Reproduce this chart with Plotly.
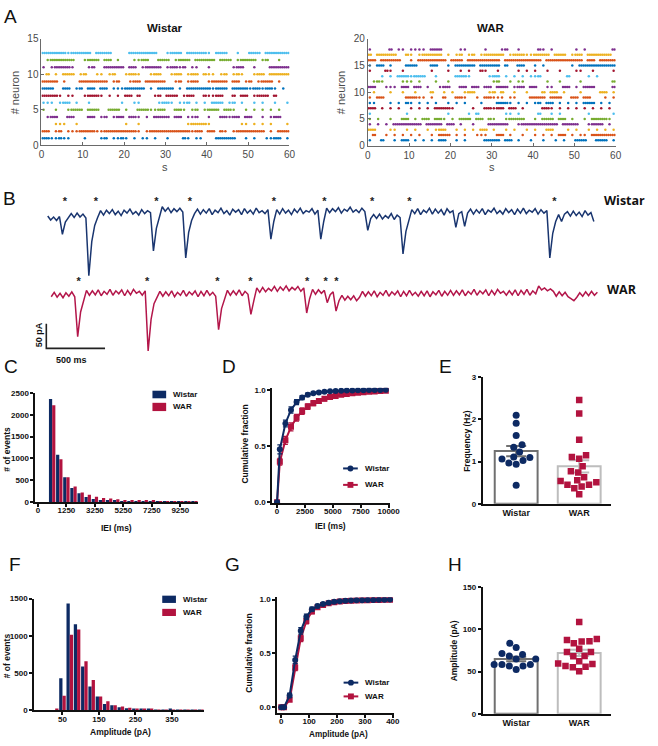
import numpy as np
import plotly.graph_objects as go

FIG_W, FIG_H = 658, 746
def fx(p): return p / FIG_W
def fy(p): return 1 - p / FIG_H

NAVY = '#0d2a63'
CRIMSON = '#b2133f'
TRACE_NAVY = '#19356f'
TRACE_CRIMSON = '#b3164a'
MATLAB_COLORS = ['#0072BD', '#D95319', '#EDB120', '#7E2F8E', '#77AC30', '#4DBEEE', '#A2142F']
GP_FONT = 'Liberation Sans'

# ---------------- Panel A : raster (60 one-second bins per neuron; '|' = 1 spike, ':' = 2 spikes)
RASTER_WISTAR = [
    "::||:||... |...|:.||: |.|.||.|.. |...:|.||. ..:::::..| .|..||::.|",
    "::.|:.|||: :::||::::: :::|.|:::: ::::::|::. ::.:|.|::: ::::.|.:::",
    "...|||..|. .......... |..|...... .....|:::: |.......|| .|.|.|...|",
    ".|::..::.. .::.|:.|:: .::|.|.::: :.::.||:.. |..::|::.: :..|.|::..",
    "|..|..|::: .:::..:::. |..:::||:: ..::|.|:.| :::.::|..| .|.|.|.|..",
    "|||.|::.|. .|.......| ..||....|: :|.||:.|.| .:::.|:.|. .|.|..|..|",
    "::::|.||.. |:::|.|.|. ::.:...|:. :::.|::..: ||::..:.:: .|:::.:...",
    ":::..::.|: .::.::.||| :::::.|.:: ::.|.::::: :|:::.:::: |::|::|.|.",
    "::::.|...: ::::::.|:. .|::.::::: ..|:.|::.. |::::.::.| :.|:::.|..",
    ".:.|.:::.| :..||.|:.. |::|..|::. .|::.|::.: ||.|:.|:|. .|::.:::::",
    "|.|::::|.. .|:..::::: .::.|::::. |::|:.||.. |.....|::. .|...:::::",
    ".|::::::.. |:::.::.|. ..||::..:: :.|:::.::: ::.:::.|:: ::.|:..|..",
    "::::::|::: ::.::::... .:::::::.. |:::.::::: |.:::..|.. :::.::::::",
]
RASTER_WAR = [
    "|..:..|.:: .|.|.|.::. .|.|....:: ::.::.|..| ..|..|.|.. :::..:::.|",
    ".:..|.|.|. |.|..|.::: .|.|..|||. .::.|..|.. |.|.|.::.| .||.::::::",
    "::...||..| .|..|.|::. .|.|.|.::. |..|.|..|. |..::...|. |..|.|.|.|",
    "|.|.|.:::: :::.::::.: :.|..|...: ::::..|::: ::::::.::: :..|:::.|.",
    "|.|..|..:: .|.::.::|. |.:::.::.: |..|::::.. |.:::.::.| ..|.::::|.",
    "|........| .........| ....|.:... ...||.|... .:..|.|... ...|.....|",
    "::.|.|.|.. |.|.|.:::: |....|..:: |::.::.|.. ..::|.|.|. |.|.|.|.|.",
    "||...|.|.: |.|.|.|..| .|.|...|.. .:::|.|.|. |:.::.|.|. |.:::.|.|.",
    "|.::.....: ::||.|..:. .::|..|.:: |||.||...: :::.:::..: :.::...|.|",
    ".|...|..|. .|...:..|. |..|::...| :.:..|..|. ..:.::.|.. .|....::.|",
    "::..|||.:: .::.|..|:: ..::.::.:: .:::.|::.: :..||..::. |.:::....:",
    ".|:|....|| |.|...|..| .......... |:..|.||.. ...|..|... .|.......:",
    "...|.|.::: |:::..|... .:::|....| ::.|.|.|.| |:......:. ...|.|....",
    "|...:|..|. .....|...| ..|.|..:|. .|....|.|. |..|..|... ||..|....|",
    "|.::.|...: ::...::..| .:::::.::: ::.:..::.. |.|......| .:::::::::",
    "::.:::::.. |.:::::::. :::.:::::: ::.::::::: ::.::::::: ::.::.::::",
    ":.:::::..: |.|:::::.| .|:.|:.|:: :::.|:::|| ::::.:::.| ::.::::::.",
    "|....:.||. ||||.:::.. ..||....|. ..|:..|... .:|.|..... |.|......:",
]

# ---------------- Panel B : traces (pA, sampled every 25 ms)
TRACE_DT_MS = 25
TRACE_WISTAR = [
    -3, -11, -5, -12, -4,
    -40, -15, -6,
    2, -6, 3, -5, 1, -7,
    -124, -55, -22, -6,
    8, -1, 9, 2, 10, 0, 7, -2, 9, 3, 11, 1, 6, -1, 10, 2, 8, 4,
    -74, -28, -5,
    16, 7, 14, 4, 12, 6, 13, 5,
    -88, -36, -12, 2,
    11, 1, 10, 3, 12, 0, 9, 4, 13, 2, 8, -1, 11, 5, 10, 0, 12, 3, 9, 1, 13, 4, 8, 2, 10,
    -50, -14,
    10, 1, 12, 3, 9, 0, 11, 4, 13, 2, 8, 5, 12, 1, 9,
    -50, -14,
    13, 4, 12, 6, 14, 3, 11, 7, 15, 5, 10, 4, 13, 6,
    -32, -8,
    0, -8, 1, -9, -2, -7, 2, -10, -1, -6,
    -80, -34, -10,
    10, 2, 12, 0, 9, 4, 13, 1, 11, 3, 10, -1, 12, 4, 8,
    -26, 2, 6, -24, 3,
    11, 1, 10, 3, 12, 0, 9, 5, 13, 2, 8, 1, 12, 4, 10, 0, 11, 3, 13, 2, 9, 5, 12, 1, 10, 3, 8,
    -88, -38, -14, 0, -14, 1,
    6, -3, 7, -2, 5, -4, 8, -1, 4,
    -14,
]
TRACE_WAR = [
    -4, 5, -5, 3, -6, 4, -3, 6, -4,
    -85, -35, -12,
    9, -1, 8, 0, 10, -2, 7, 1, 11, -1, 8, 2, 10, -2, 9, 0, 11, 3, 7, -1, 8,
    -114, -50, -18, -4,
    7, -3, 6, -2, 8, -4, 5, -1, 9, -3, 6, 0, 8, -4, 7, -2, 9, -1, 5, -3,
    -71, -28, -8,
    9, -1, 8, 0, 10, -2, 7, 1,
    -40, -12,
    14, 5, 15, 6, 13, 8, 17, 7, 16, 9, 18, 8, 15, 10, 17, 7, 14,
    -37, -8,
    11, 1, 10, 3, 9,
    -16, 0, 6,
    -33, -12,
    -1, -11, -3, -10, -2, -12, -5,
    7, -3, 6, -2, 8, -4, 5, -1, 9, -3, 6, 0, 8, -4, 7, -2, 9, -1, 5, -3, 7, -2, 8, -4, 6, 0, 9, -3, 7, -1,
    9, -1, 8, 0, 10, -2, 7, 1, 11, -1, 8, 2, 10, -2, 9, 0, 11, 3, 7, -1, 8, 0, 10, -2, 9, 1, 11, -1, 8, 2,
    18, 10, 14, 8, 12,
    7, -3, 6, -2, 5, -4, -8, -12, -5, 4, -3, 6, -2, 7, -1, 5,
]
WAR_TRACE_START_MS = 30
EVENTS_WISTAR_MS = [147, 411, 925, 1211, 1925, 2355, 2763, 3080, 4313]
EVENTS_WAR_MS = [263, 847, 1444, 1725, 2208, 2367, 2458]
SCALE_PA = 50
SCALE_MS = 500

# ---------------- Panel C : IEI histogram
IEI_BINS = [250, 750, 1250, 1750, 2250, 2750, 3250, 3750, 4250, 4750, 5250,
            5750, 6250, 6750, 7250, 7750, 8250, 8750, 9250, 9750, 10250]
IEI_HIST_WISTAR = [2364, 1084, 565, 316, 196, 113, 68, 45, 30, 22, 15, 10, 8, 6, 5, 4, 3, 3, 2, 2, 1]
IEI_HIST_WAR = [2221, 979, 565, 354, 218, 166, 120, 90, 75, 60, 45, 38, 30, 25, 22, 18, 15, 13, 12, 10, 8]
IEI_TICKS = ['0', '1250', '3250', '5250', '7250', '9250']

# ---------------- Panel D : IEI cumulative
IEI_CUM_X = [0, 250, 750, 1250, 1750, 2250, 2750, 3250, 3750, 4250, 4750,
             5250, 5750, 6250, 6750, 7250, 7750, 8250, 8750, 9250, 9750]
IEI_CUM_WISTAR = [0, 0.47, 0.70, 0.82, 0.89, 0.93, 0.955, 0.968, 0.976, 0.982, 0.986,
                  0.989, 0.991, 0.993, 0.994, 0.995, 0.996, 0.997, 0.998, 0.998, 0.999]
IEI_CUM_WISTAR_SEM = [0, 0.04, 0.03, 0.028, 0.022, 0.018, 0.014, 0.01, 0.009, 0.008, 0.006,
                      0.005, 0.004, 0.004, 0.003, 0.003, 0.002, 0.002, 0.002, 0.001, 0.001]
IEI_CUM_WAR = [0, 0.36, 0.55, 0.67, 0.75, 0.81, 0.85, 0.88, 0.90, 0.92, 0.935,
               0.945, 0.955, 0.962, 0.968, 0.973, 0.977, 0.981, 0.985, 0.988, 0.99]
IEI_CUM_WAR_SEM = [0, 0.03, 0.035, 0.035, 0.03, 0.028, 0.025, 0.022, 0.02, 0.018, 0.016,
                   0.014, 0.012, 0.011, 0.01, 0.009, 0.008, 0.007, 0.006, 0.005, 0.004]
IEI_CUM_TICKS = ['0', '2500', '5000', '7500', '10000']

# ---------------- Panel E : frequency per cell (Hz)
FREQ_WISTAR = [2.10, 1.91, 1.62, 1.40, 1.34, 1.23, 1.11, 1.06, 1.10, 1.03, 0.97, 0.94, 0.44]
FREQ_WAR = [2.46, 2.14, 1.52, 1.15, 1.11, 1.07, 0.89, 0.74, 0.77, 0.63, 0.54, 0.56,
            0.51, 0.41, 0.45, 0.45, 0.37, 0.23]
GROUPS = ['Wistar', 'WAR']

# ---------------- Panel F : amplitude histogram
AMP_BINS = [10, 30, 50, 70, 90, 110, 130, 150, 170, 190, 210, 230, 250, 270, 290,
            310, 330, 350, 370, 390, 410, 430]
AMP_HIST_WISTAR = [0, 0, 431, 1434, 1157, 590, 321, 189, 88, 70, 44, 31, 20, 15, 12, 10, 8, 12, 6, 5, 4, 3]
AMP_HIST_WAR = [0, 15, 198, 1016, 1087, 660, 409, 189, 123, 70, 53, 35, 25, 16, 12, 10, 8, 6, 6, 5, 4, 3]

# ---------------- Panel G : amplitude cumulative
AMP_CUM_X = [0, 10, 30, 50, 70, 90, 110, 130, 150, 170, 190, 210, 230, 250, 270,
             290, 310, 330, 350, 370, 390]
AMP_CUM_WISTAR = [0, 0, 0.11, 0.44, 0.71, 0.84, 0.91, 0.94, 0.96, 0.97, 0.98,
                  0.985, 0.99, 0.992, 0.994, 0.995, 0.996, 0.997, 0.998, 0.999, 1.0]
AMP_CUM_WISTAR_SEM = [0, 0, 0.02, 0.035, 0.03, 0.025, 0.02, 0.015, 0.01, 0.008, 0.006,
                      0.005, 0.004, 0.003, 0.003, 0.002, 0.002, 0.002, 0.001, 0.001, 0.001]
AMP_CUM_WAR = [0, 0, 0.07, 0.37, 0.64, 0.80, 0.89, 0.93, 0.95, 0.965, 0.975,
               0.982, 0.987, 0.99, 0.992, 0.994, 0.995, 0.996, 0.997, 0.998, 0.999]
AMP_CUM_WAR_SEM = [0, 0, 0.015, 0.03, 0.03, 0.025, 0.02, 0.015, 0.012, 0.01, 0.008,
                   0.006, 0.005, 0.004, 0.003, 0.003, 0.002, 0.002, 0.002, 0.001, 0.001]

# ---------------- Panel H : amplitude per cell (pA)
AMP_WISTAR = [83.6, 78.5, 70.3, 71.5, 68.4, 64.9, 64.9, 58.3, 56.7, 56.7, 58.3, 58.3, 52.5]
AMP_WAR = [108.8, 87.4, 88.6, 85.5, 85.9, 83.6, 77.0, 73.1, 73.1, 68.4, 68.0, 62.2,
           59.1, 59.5, 56.7, 55.6, 55.2, 50.5]

fig = go.Figure()
layout = dict(width=FIG_W, height=FIG_H, margin=dict(l=0, r=0, t=0, b=0),
              paper_bgcolor='white', plot_bgcolor='white', showlegend=False)
annotations = []
shapes = []


def axkeys(n):
    return ('xaxis' if n == 1 else f'xaxis{n}', 'yaxis' if n == 1 else f'yaxis{n}',
            'x' if n == 1 else f'x{n}', 'y' if n == 1 else f'y{n}')


def set_axes(n, xpx, ypx, xr, yr, xstyle, ystyle):
    xk, yk, xa, ya = axkeys(n)
    layout[xk] = dict(domain=[fx(xpx[0]), fx(xpx[1])], range=xr, anchor=ya, fixedrange=True,
                      showgrid=False, zeroline=False, **xstyle)
    layout[yk] = dict(domain=[fy(ypx[1]), fy(ypx[0])], range=yr, anchor=xa, fixedrange=True,
                      showgrid=False, zeroline=False, **ystyle)
    return xa, ya


def matlab_style():
    return dict(showline=True, linecolor='#6a6a6a', linewidth=1, ticks='inside', ticklen=3,
                tickcolor='#6a6a6a', tickfont=dict(family=GP_FONT, size=10, color='#4a4a4a'))


def gp_style(**kw):
    d = dict(showline=True, linecolor='#111111', linewidth=1.6, ticks='outside', ticklen=3,
             tickwidth=1.6, tickcolor='#111111',
             tickfont=dict(family=GP_FONT, size=8, color='#111111', weight='bold'))
    d.update(kw)
    return d


def ann(text, x, y, size=8.5, bold=True, angle=0, xanchor='center', color='#111111', family=GP_FONT):
    annotations.append(dict(text=text, x=fx(x), y=fy(y), xref='paper', yref='paper', showarrow=False,
                            textangle=angle, xanchor=xanchor, yanchor='middle',
                            font=dict(family=family, size=size, color=color,
                                      weight='bold' if bold else 'normal')))


# ======== Panel A ========
def raster(rows, xa, ya):
    for r, row in enumerate(rows, start=1):
        bins = row.replace(' ', '')
        times = []
        for b, c in enumerate(bins):
            if c == '|':
                times.append(b + 0.5)
            elif c == ':':
                times.extend([b + 0.25, b + 0.75])
        fig.add_trace(go.Scatter(x=times, y=[r] * len(times), mode='markers', xaxis=xa, yaxis=ya,
                                 marker=dict(symbol='circle', size=2.5,
                                             color=MATLAB_COLORS[(r - 1) % 7], line=dict(width=0))))


xa, ya = set_axes(1, (39.3, 292.7), (33.3, 141.7), [0, 60], [0, 15],
                  dict(matlab_style(), tickvals=[0, 10, 20, 30, 40, 50, 60]),
                  dict(matlab_style(), tickvals=[0, 5, 10, 15]))
raster(RASTER_WISTAR, xa, ya)
xa, ya = set_axes(2, (372.7, 626), (33.3, 142), [0, 60], [0, 20],
                  dict(matlab_style(), tickvals=[0, 10, 20, 30, 40, 50, 60]),
                  dict(matlab_style(), tickvals=[0, 5, 10, 15, 20]))
raster(RASTER_WAR, xa, ya)
ann('Wistar', 165.7, 22, size=11.5)
ann('WAR', 499, 22, size=11.5)
ann('# neuron', 12, 88, size=11, bold=False, angle=-90, color='#4a4a4a')
ann('# neuron', 345, 88, size=11, bold=False, angle=-90, color='#4a4a4a')
ann('s', 165.5, 164, size=11, bold=False, color='#4a4a4a')
ann('s', 499.5, 164, size=11, bold=False, color='#4a4a4a')

# ======== Panel B ========
xa, ya = set_axes(3, (40, 610), (190, 365), [-47.5, 4702.5], [-306, 44],
                  dict(visible=False), dict(visible=False))
WAR_OFFSET = -163
t_w = [i * TRACE_DT_MS for i in range(len(TRACE_WISTAR))]
t_r = [WAR_TRACE_START_MS + i * TRACE_DT_MS for i in range(len(TRACE_WAR))]
fig.add_trace(go.Scatter(x=t_w, y=TRACE_WISTAR, mode='lines', xaxis=xa, yaxis=ya,
                         line=dict(color=TRACE_NAVY, width=1.5)))
fig.add_trace(go.Scatter(x=t_r, y=[v + WAR_OFFSET for v in TRACE_WAR], mode='lines', xaxis=xa, yaxis=ya,
                         line=dict(color=TRACE_CRIMSON, width=1.5)))
STAR_OFFSET = 25
fig.add_trace(go.Scatter(x=EVENTS_WISTAR_MS, y=[STAR_OFFSET] * len(EVENTS_WISTAR_MS), mode='text',
                         text=['*'] * len(EVENTS_WISTAR_MS), xaxis=xa, yaxis=ya,
                         textfont=dict(family=GP_FONT, size=11, color='#222222', weight='bold')))
fig.add_trace(go.Scatter(x=EVENTS_WAR_MS, y=[WAR_OFFSET + STAR_OFFSET] * len(EVENTS_WAR_MS), mode='text',
                         text=['*'] * len(EVENTS_WAR_MS), xaxis=xa, yaxis=ya,
                         textfont=dict(family=GP_FONT, size=11, color='#222222', weight='bold')))
bar_x0, bar_y0 = -12, -272
fig.add_trace(go.Scatter(x=[bar_x0, bar_x0, bar_x0 + SCALE_MS], y=[bar_y0 + SCALE_PA, bar_y0, bar_y0],
                         mode='lines', xaxis=xa, yaxis=ya, line=dict(color='#222222', width=1.6)))
ann('50 pA', 36.5, 334, size=9, angle=-90)
ann('500 ms', 70, 360, size=9)
ann('Wistar', 635, 198, size=12.5, family='Open Sans')
ann('WAR', 632, 288, size=12.5, family='Open Sans')

# ======== Panel C ========
xa, ya = set_axes(4, (33, 199), (393.3, 504), [-934, 10477], [0, 2500],
                  gp_style(tickvals=[-750, 1250, 3250, 5250, 7250, 9250], ticktext=IEI_TICKS, ticklabelstandoff=-3),
                  gp_style(tickvals=[0, 500, 1000, 1500, 2000, 2500]))
fig.add_trace(go.Bar(x=IEI_BINS, y=IEI_HIST_WISTAR, xaxis=xa, yaxis=ya, marker=dict(color=NAVY, line=dict(width=0))))
fig.add_trace(go.Bar(x=IEI_BINS, y=IEI_HIST_WAR, xaxis=xa, yaxis=ya, marker=dict(color=CRIMSON, line=dict(width=0))))
ann('# of events', 4, 450, angle=-90)
ann('IEI (ms)', 116, 530.5)

# ======== Panel D ========
xa, ya = set_axes(5, (275, 395), (388, 505), [-439, 10088], [-0.006, 1.0175],
                  gp_style(tickvals=[0, 2500, 5000, 7500, 10000], ticktext=IEI_CUM_TICKS, ticklabelstandoff=-3),
                  gp_style(tickvals=[0, 0.5, 1.0], tickformat='.1f'))
fig.add_trace(go.Scatter(x=IEI_CUM_X, y=IEI_CUM_WAR, mode='lines+markers', xaxis=xa, yaxis=ya,
                         line=dict(color=CRIMSON, width=2), marker=dict(symbol='square', size=6, color=CRIMSON),
                         error_y=dict(type='data', array=IEI_CUM_WAR_SEM, color=CRIMSON, thickness=1.3, width=2.5)))
fig.add_trace(go.Scatter(x=IEI_CUM_X, y=IEI_CUM_WISTAR, mode='lines+markers', xaxis=xa, yaxis=ya,
                         line=dict(color=NAVY, width=2), marker=dict(symbol='circle', size=6, color=NAVY),
                         error_y=dict(type='data', array=IEI_CUM_WISTAR_SEM, color=NAVY, thickness=1.3, width=2.5)))
ann('Cumulative fraction', 247, 445, angle=-90)
ann('IEI (ms)', 335, 528)


# ======== bar + scatter helper (E, H) ========
def swarm_offsets(vals, px_per_unit, d, step=0.5):
    order = np.argsort(vals)
    placed = []
    offs = np.zeros(len(vals))
    for i in order:
        y = vals[i] * px_per_unit
        best = None
        k = 0
        while best is None:
            cands = [0.0] if k == 0 else [-k * step, k * step]
            for c in cands:
                if all((c - px) ** 2 + (y - py) ** 2 >= d * d for px, py in placed):
                    best = c
                    break
            k += 1
        placed.append((best, y))
        offs[i] = best
    return offs


def bar_scatter(xa, ya, data_w, data_r, y_px_per_unit, x_px_per_unit):
    for gi, (vals, ocol, pcol, sym, msize) in enumerate([
            (data_w, '#707070', NAVY, 'circle', 7),
            (data_r, '#bdbdbd', CRIMSON, 'square', 6.5)]):
        v = np.array(vals, dtype=float)
        mean = v.mean()
        sem = v.std(ddof=1) / np.sqrt(len(v))
        fig.add_trace(go.Bar(x=[gi], y=[mean], width=0.68, xaxis=xa, yaxis=ya,
                             marker=dict(color='rgba(255,255,255,0)', line=dict(color=ocol, width=2)),
                             error_y=dict(type='data', array=[sem], color=ocol, thickness=2, width=10)))
        offs = swarm_offsets(v, y_px_per_unit, 7.6)
        fig.add_trace(go.Scatter(x=gi + offs / x_px_per_unit, y=v, mode='markers', xaxis=xa, yaxis=ya,
                                 marker=dict(symbol=sym, size=msize, color=pcol, line=dict(width=0))))


cat_axis = gp_style(tickvals=[0, 1], ticktext=GROUPS, ticklen=3, tickcolor='rgba(0,0,0,0)', ticklabelstandoff=-3,
                    tickfont=dict(family=GP_FONT, size=9, color='#111111', weight='bold'))

# ======== Panel E ========
xa, ya = set_axes(6, (490, 621.7), (377.3, 506), [-0.533, 1.512], [0, 3],
                  cat_axis, gp_style(tickvals=[0, 1, 2, 3]))
bar_scatter(xa, ya, FREQ_WISTAR, FREQ_WAR, (506 - 377.3) / 3, 64.4)
ann('Frequency (Hz)', 473.3, 441.7, angle=-90)

# ======== Panel F ========
xa, ya = set_axes(7, (31.7, 205), (602.3, 716), [-28, 437], [0, 1500],
                  gp_style(tickvals=[50, 150, 250, 350], ticklabelstandoff=-3),
                  gp_style(tickvals=[0, 500, 1000, 1500]))
fig.add_trace(go.Bar(x=AMP_BINS, y=AMP_HIST_WISTAR, xaxis=xa, yaxis=ya, marker=dict(color=NAVY, line=dict(width=0))))
fig.add_trace(go.Bar(x=AMP_BINS, y=AMP_HIST_WAR, xaxis=xa, yaxis=ya, marker=dict(color=CRIMSON, line=dict(width=0))))
ann('# of events', 4, 660, angle=-90)
ann('Amplitude (pA)', 120, 738)

# ======== Panel G ========
xa, ya = set_axes(8, (280, 400), (601, 718.3), [-15.1, 406], [-0.051, 1.021],
                  gp_style(tickvals=[0, 100, 200, 300, 400], ticklabelstandoff=-3),
                  gp_style(tickvals=[0, 0.5, 1.0], tickformat='.1f'))
fig.add_trace(go.Scatter(x=AMP_CUM_X, y=AMP_CUM_WAR, mode='lines+markers', xaxis=xa, yaxis=ya,
                         line=dict(color=CRIMSON, width=2), marker=dict(symbol='square', size=6, color=CRIMSON),
                         error_y=dict(type='data', array=AMP_CUM_WAR_SEM, color=CRIMSON, thickness=1.3, width=2.5)))
fig.add_trace(go.Scatter(x=AMP_CUM_X, y=AMP_CUM_WISTAR, mode='lines+markers', xaxis=xa, yaxis=ya,
                         line=dict(color=NAVY, width=2), marker=dict(symbol='circle', size=6, color=NAVY),
                         error_y=dict(type='data', array=AMP_CUM_WISTAR_SEM, color=NAVY, thickness=1.3, width=2.5)))
ann('Cumulative fraction', 251.7, 658, angle=-90)
ann('Amplitude (pA)', 343, 740.5, size=8.2)

# ======== Panel H ========
xa, ya = set_axes(9, (490, 621.7), (590.7, 719.3), [-0.533, 1.512], [0, 150],
                  cat_axis, gp_style(tickvals=[0, 50, 100, 150]))
bar_scatter(xa, ya, AMP_WISTAR, AMP_WAR, (719.3 - 590.7) / 150, 64.4)
ann('Amplitude (pA)', 461.7, 655, angle=-90)

layout['barmode'] = 'group'
layout['bargap'] = 0.1
layout['bargroupgap'] = 0.0


# ======== legends (glyphs) ========
def legend_box(x0, x1, y0, y1, color):
    shapes.append(dict(type='rect', xref='paper', yref='paper', x0=fx(x0), x1=fx(x1), y0=fy(y1), y1=fy(y0),
                       fillcolor=color, line=dict(width=0)))


def legend_line(xc, yc, color, symbol):
    shapes.append(dict(type='line', xref='paper', yref='paper', x0=fx(xc - 7.5), x1=fx(xc + 7.5),
                       y0=fy(yc), y1=fy(yc), line=dict(color=color, width=2)))
    shapes.append(dict(type='circle' if symbol == 'circle' else 'rect', xref='paper', yref='paper',
                       x0=fx(xc - 3), x1=fx(xc + 3), y0=fy(yc + 3), y1=fy(yc - 3),
                       fillcolor=color, line=dict(width=0)))


legend_box(152.7, 166.7, 391, 398.7, NAVY)
legend_box(152.7, 166.7, 403.3, 411.7, CRIMSON)
ann(GROUPS[0], 171.5, 395, size=8, xanchor='left')
ann(GROUPS[1], 171.5, 407.5, size=8, xanchor='left')
legend_box(162.7, 176.7, 599.3, 606.7, NAVY)
legend_box(162.7, 176.7, 612.7, 620, CRIMSON)
ann(GROUPS[0], 181.5, 603, size=8, xanchor='left')
ann(GROUPS[1], 181.5, 616.3, size=8, xanchor='left')
legend_line(355, 470, NAVY, 'circle')
legend_line(355, 486.7, CRIMSON, 'square')
ann(GROUPS[0], 368, 470, size=8, xanchor='left')
ann(GROUPS[1], 368, 486.7, size=8, xanchor='left')
legend_line(355.5, 687.7, NAVY, 'circle')
legend_line(355.5, 701.7, CRIMSON, 'square')
ann(GROUPS[0], 368, 687.7, size=8, xanchor='left')
ann(GROUPS[1], 368, 701.7, size=8, xanchor='left')

# ======== panel letters ========
for letter, (lx, ly) in {'A': (8, 11), 'B': (7, 196), 'C': (8, 366), 'D': (231, 366), 'E': (452, 366),
                         'F': (12, 568), 'G': (234, 568), 'H': (462, 568)}.items():
    ann(letter, lx, ly, size=19, bold=False, color='#111111')

layout['annotations'] = annotations
layout['shapes'] = shapes
fig.update_layout(**layout)
fig.write_html('out.html', config={'displayModeBar': False},
               post_script="document.body.style.margin='0px';document.body.style.overflow='hidden';")
